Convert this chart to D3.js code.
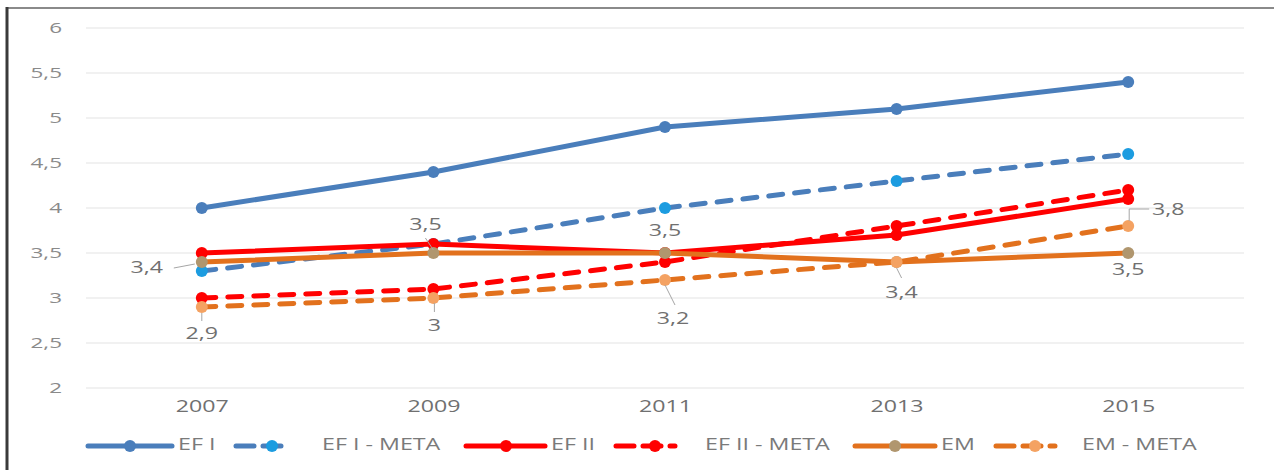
<!DOCTYPE html>
<html><head><meta charset="utf-8">
<script src="https://cdn.jsdelivr.net/npm/d3@7"></script>
<style>
html,body{margin:0;padding:0;background:#fff;}
svg{display:block;font-family:"Open Sans","Liberation Sans",sans-serif;}
</style></head>
<body>
<svg id="c" width="1274" height="470"></svg>
<script>
const years = ["2007","2009","2011","2013","2015"];
const yTicks = [2,2.5,3,3.5,4,4.5,5,5.5,6];
const efI      = [4.0,4.4,4.9,5.1,5.4];
const efIMeta  = [3.3,3.6,4.0,4.3,4.6];
const efII     = [3.5,3.6,3.5,3.7,4.1];
const efIIMeta = [3.0,3.1,3.4,3.8,4.2];
const em       = [3.4,3.5,3.5,3.4,3.5];
const emMeta   = [2.9,3.0,3.2,3.4,3.8];
const seriesNames = ["EF I","EF I - META","EF II","EF II - META","EM","EM - META"];

const series = [
  {name:seriesNames[0], values:efI,      color:"#4a7ebb", marker:"#4a7ebb", dash:null},
  {name:seriesNames[1], values:efIMeta,  color:"#4a7ebb", marker:"#1c9ce0", dash:"14,12"},
  {name:seriesNames[2], values:efII,     color:"#ff0000", marker:"#ff0000", dash:null},
  {name:seriesNames[3], values:efIIMeta, color:"#ff0000", marker:"#ff0000", dash:"14,12"},
  {name:seriesNames[4], values:em,       color:"#e2711d", marker:"#b0966e", dash:null},
  {name:seriesNames[5], values:emMeta,   color:"#e2711d", marker:"#f4a262", dash:"14,12"}
];

const SX = 1.45; // horizontal stretch of text seen in the reference
const svg = d3.select("#c");
const x = d3.scalePoint().domain(years).range([86,1244]).padding(0.5);
const y = d3.scaleLinear().domain([2,6]).range([388,28]);
const fmt = v => String(v).replace(".", ",");

// frame
svg.append("line").attr("x1",7).attr("x2",1274).attr("y1",8).attr("y2",8).attr("stroke","#8a8a8a").attr("stroke-width",2);
svg.append("line").attr("x1",7).attr("x2",7).attr("y1",7).attr("y2",470).attr("stroke","#3a3a3a").attr("stroke-width",3);

// gridlines
svg.append("g").selectAll("line").data(yTicks).join("line")
  .attr("x1",86).attr("x2",1244)
  .attr("y1",d=>y(d)).attr("y2",d=>y(d))
  .attr("stroke","#e3e3e3").attr("stroke-width",1.2);

// y axis
const ya = svg.append("g").attr("transform","translate(62,0)")
  .call(d3.axisLeft(y).tickValues(yTicks).tickFormat(fmt).tickSize(0).tickPadding(0));
ya.select(".domain").remove();
ya.selectAll("text").attr("fill","#8a8a8a").style("font-size","15px")
  .style("font-family","'Open Sans',sans-serif").attr("transform",`scale(${1.5},1)`);

// x axis
const xa = svg.append("g").attr("transform","translate(0,401)")
  .call(d3.axisBottom(x).tickSize(0).tickPadding(0));
xa.select(".domain").remove();
xa.selectAll("text").attr("fill","#707070").style("font-size","16px")
  .style("font-family","'Open Sans',sans-serif").attr("transform",`scale(${SX},1)`);

// lines
const line = d3.line().x((d,i)=>x(years[i])).y(d=>y(d));
series.forEach(s=>{
  const g = svg.append("g");
  g.append("path").attr("d",line(s.values)).attr("fill","none")
    .attr("stroke",s.color).attr("stroke-width",5)
    .attr("stroke-linecap","round").attr("stroke-linejoin","round")
    .attr("stroke-dasharray",s.dash);
  g.selectAll("circle").data(s.values).join("circle")
    .attr("cx",(d,i)=>x(years[i])).attr("cy",d=>y(d)).attr("r",6)
    .attr("fill",s.marker);
});

// data labels (EM and EM - META)
const labelLayout = [
  {s:4,i:0,dx:-55,dy:7,lead:[[-28,6],[-7,2]]},
  {s:4,i:1,dx:-8,dy:-27,lead:[[-8,-15],[0,-3]]},
  {s:4,i:2,dx:0,dy:-21,lead:null},
  {s:5,i:0,dx:0,dy:28,lead:[[0,6],[0,14]]},
  {s:5,i:1,dx:1,dy:29,lead:[[1,5],[1,14]]},
  {s:5,i:2,dx:8,dy:40,lead:[[0,5],[10,25]]},
  {s:5,i:3,dx:5,dy:32,lead:[[0,6],[5,16]]},
  {s:4,i:4,dx:0,dy:18,lead:null},
  {s:5,i:4,dx:40,dy:-15,lead:[[1,-5],[1,-17],[21,-17]]}
];
const lg = svg.append("g");
labelLayout.forEach(L=>{
  const v = series[L.s].values[L.i];
  const px = x(years[L.i]), py = y(v);
  if (L.lead) {
    lg.append("path").attr("d", d3.line()(L.lead.map(p=>[px+p[0],py+p[1]])))
      .attr("fill","none").attr("stroke","#a6a6a6").attr("stroke-width",1);
  }
  lg.append("text").attr("transform",`translate(${px+L.dx},${py+L.dy}) scale(${SX},1)`)
    .attr("text-anchor","middle")
    .attr("dominant-baseline","middle").attr("fill","#707070").style("font-size","16px")
    .text(fmt(v));
});

// legend
const legendLayout = [
  {x0:85, x1:175, m:130, t:178},
  {x0:233,x1:292, m:272, t:322},
  {x0:463,x1:548, m:506, t:551},
  {x0:613,x1:678, m:655, t:705},
  {x0:852,x1:938, m:895, t:941},
  {x0:993,x1:1058,m:1035,t:1082}
];
const leg = svg.append("g");
const ly = 446;
series.forEach((s,k)=>{
  const L = legendLayout[k];
  leg.append("line").attr("x1",L.x0+3).attr("x2",L.x1-3).attr("y1",ly).attr("y2",ly)
    .attr("stroke",s.color).attr("stroke-width",5).attr("stroke-linecap","round")
    .attr("stroke-dasharray",s.dash ? "18,9" : null);
  leg.append("circle").attr("cx",L.m).attr("cy",ly).attr("r",6).attr("fill",s.marker);
  leg.append("text").attr("transform",`translate(${L.t},${ly}) scale(1.5,1)`)
    .attr("dominant-baseline","middle")
    .attr("fill","#7a7a7a").style("font-size","15.5px").text(s.name);
});
</script>
</body></html>
